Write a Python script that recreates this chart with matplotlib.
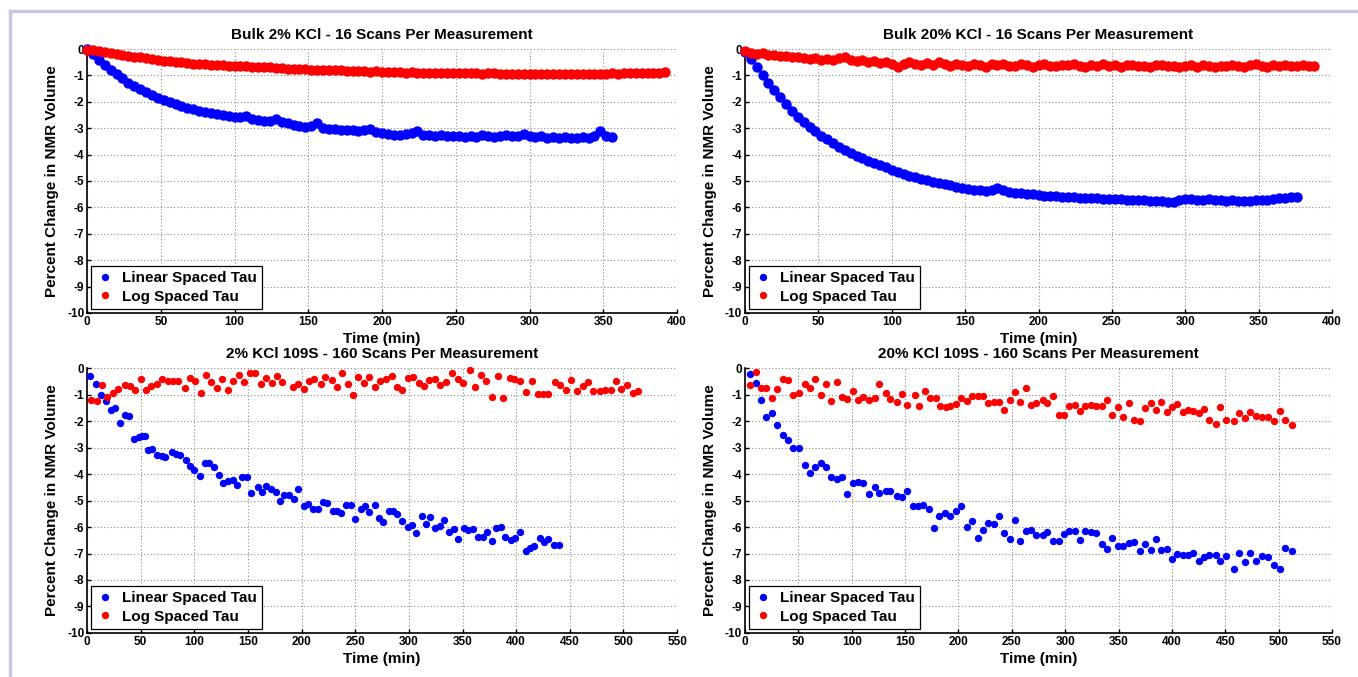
import numpy as np
import matplotlib.pyplot as plt
from matplotlib.lines import Line2D

plt.rcParams['font.family'] = ['Liberation Sans', 'DejaVu Sans']
plt.rcParams['font.weight'] = 'bold'
plt.rcParams['axes.unicode_minus'] = False

# bulk runs: one value every STEP minutes
STEP = 4

bulk2_linear = [
    0.00, -0.18, -0.40, -0.60, -0.78, -0.93, -1.10, -1.27, -1.40, -1.52,
    -1.63, -1.74, -1.84, -1.93, -2.01, -2.08, -2.15, -2.22, -2.28, -2.33,
    -2.37, -2.43, -2.47, -2.51, -2.55, -2.58, -2.56, -2.52, -2.66, -2.70,
    -2.71, -2.73, -2.66, -2.76, -2.80, -2.88, -2.93, -2.95, -2.90, -2.82,
    -2.98, -3.03, -3.02, -3.06, -3.08, -3.07, -3.10, -3.06, -3.02, -3.15,
    -3.18, -3.22, -3.24, -3.25, -3.22, -3.20, -3.10, -3.24, -3.27, -3.30,
    -3.26, -3.30, -3.31, -3.28, -3.33, -3.30, -3.32, -3.27, -3.30, -3.33,
    -3.29, -3.26, -3.31, -3.28, -3.22, -3.30, -3.35, -3.31, -3.36, -3.33,
    -3.38, -3.32, -3.36, -3.39, -3.34, -3.37, -3.30, -3.10, -3.28, -3.32]
bulk2_log = [
    -0.02, -0.05, -0.09, -0.12, -0.15, -0.20, -0.23, -0.26, -0.30, -0.32,
    -0.35, -0.39, -0.41, -0.44, -0.47, -0.48, -0.51, -0.52, -0.55, -0.56,
    -0.58, -0.59, -0.61, -0.61, -0.63, -0.63, -0.66, -0.66, -0.68, -0.68,
    -0.70, -0.70, -0.72, -0.72, -0.74, -0.74, -0.76, -0.76, -0.78, -0.78,
    -0.79, -0.79, -0.81, -0.81, -0.83, -0.82, -0.84, -0.84, -0.86, -0.85,
    -0.87, -0.86, -0.88, -0.87, -0.89, -0.88, -0.89, -0.90, -0.89, -0.89,
    -0.91, -0.90, -0.90, -0.91, -0.91, -0.92, -0.91, -0.93, -0.92, -0.92,
    -0.94, -0.93, -0.93, -0.94, -0.94, -0.95, -0.94, -0.96, -0.95, -0.95,
    -0.96, -0.95, -0.94, -0.95, -0.94, -0.94, -0.93, -0.94, -0.93, -0.92,
    -0.93, -0.92, -0.91, -0.92, -0.90, -0.91, -0.89, -0.89, -0.88]
bulk20_linear = [
    -0.12, -0.38, -0.68, -0.98, -1.28, -1.55, -1.82, -2.10, -2.34, -2.56,
    -2.76, -2.94, -3.12, -3.28, -3.42, -3.56, -3.70, -3.84, -3.95, -4.04,
    -4.14, -4.24, -4.32, -4.40, -4.48, -4.57, -4.66, -4.74, -4.80, -4.86,
    -4.92, -4.98, -5.02, -5.07, -5.10, -5.17, -5.23, -5.28, -5.31, -5.34,
    -5.36, -5.37, -5.34, -5.28, -5.35, -5.42, -5.44, -5.46, -5.48, -5.51,
    -5.54, -5.56, -5.57, -5.58, -5.59, -5.60, -5.62, -5.63, -5.64, -5.65,
    -5.66, -5.67, -5.68, -5.69, -5.70, -5.71, -5.72, -5.72, -5.73, -5.74,
    -5.75, -5.77, -5.80, -5.78, -5.72, -5.68, -5.70, -5.71, -5.72, -5.70,
    -5.73, -5.72, -5.74, -5.73, -5.75, -5.74, -5.76, -5.72, -5.73, -5.71,
    -5.68, -5.66, -5.64, -5.61, -5.60]
bulk20_log = [
    -0.08, -0.14, -0.18, -0.16, -0.24, -0.22, -0.28, -0.25, -0.31, -0.29,
    -0.34, -0.38, -0.33, -0.40, -0.36, -0.42, -0.34, -0.32, -0.40, -0.46,
    -0.42, -0.50, -0.47, -0.53, -0.49, -0.58, -0.70, -0.55, -0.50, -0.56,
    -0.60, -0.54, -0.62, -0.51, -0.58, -0.63, -0.55, -0.60, -0.64, -0.57,
    -0.61, -0.67, -0.58, -0.62, -0.56, -0.63, -0.66, -0.58, -0.61, -0.68,
    -0.60, -0.57, -0.63, -0.66, -0.59, -0.62, -0.56, -0.64, -0.68, -0.60,
    -0.63, -0.58, -0.65, -0.61, -0.67, -0.62, -0.59, -0.66, -0.63, -0.70,
    -0.62, -0.60, -0.66, -0.63, -0.68, -0.64, -0.61, -0.67, -0.62, -0.65,
    -0.69, -0.63, -0.66, -0.61, -0.64, -0.68, -0.62, -0.58, -0.64, -0.70,
    -0.62, -0.65, -0.60, -0.63, -0.66, -0.62, -0.65, -0.64]

# 109S runs, 160 scans per measurement
s2_linear_t = [
    3, 8, 13, 18, 22, 26, 31, 35, 39, 44, 48, 51, 54, 57, 61, 65, 70, 73, 79, 83,
    87, 92, 96, 100, 105, 110, 114, 118, 123, 127, 131, 136, 140, 144, 149, 153,
    159, 163, 167, 171, 176, 180, 184, 188, 193, 197, 202, 206, 211, 215, 220,
    224, 229, 233, 237, 241, 246, 250, 255, 259, 263, 268, 272, 276, 281, 285,
    289, 294, 299, 303, 307, 312, 316, 320, 324, 329, 333, 337, 342, 346, 351,
    355, 360, 364, 369, 373, 377, 381, 386, 390, 395, 399, 404, 409, 413, 417,
    422, 426, 430, 435, 440]
s2_linear = [
    -0.29, -0.60, -1.00, -1.23, -1.57, -1.50, -2.07, -1.76, -1.82, -2.68, -2.60,
    -2.58, -2.58, -3.08, -3.06, -3.27, -3.33, -3.36, -3.18, -3.25, -3.27, -3.46,
    -3.71, -3.86, -4.09, -3.58, -3.58, -3.75, -4.03, -4.34, -4.28, -4.21, -4.43,
    -4.13, -4.13, -4.72, -4.50, -4.69, -4.44, -4.57, -4.69, -5.00, -4.78, -4.78,
    -4.94, -4.57, -5.22, -5.12, -5.32, -5.32, -5.07, -5.09, -5.38, -5.38, -5.47,
    -5.16, -5.18, -5.70, -5.32, -5.22, -5.45, -5.18, -5.66, -5.82, -5.41, -5.38,
    -5.50, -5.79, -6.01, -5.91, -6.23, -5.60, -5.89, -5.64, -6.04, -5.95, -5.72,
    -6.20, -6.08, -6.44, -6.04, -6.10, -6.06, -6.38, -6.38, -6.20, -6.54, -6.04,
    -6.01, -6.38, -6.48, -6.42, -6.17, -6.89, -6.79, -6.73, -6.40, -6.57, -6.44,
    -6.67, -6.67]
s2_log_t = [
    4, 9, 14, 19, 24, 29, 35, 40, 45, 50, 55, 60, 65, 70, 75, 80, 85, 91, 96,
    101, 106, 111, 116, 121, 126, 131, 136, 142, 146, 152, 157, 162, 167, 172,
    177, 182, 192, 197, 202, 207, 212, 218, 222, 228, 233, 238, 243, 248, 253,
    258, 263, 268, 273, 279, 284, 289, 294, 299, 304, 309, 314, 319, 324, 329,
    335, 340, 346, 350, 357, 362, 367, 372, 377, 383, 388, 394, 398, 404, 409,
    415, 420, 425, 430, 436, 441, 446, 451, 457, 462, 467, 472, 478, 483, 488,
    493, 498, 503, 509, 514]
s2_log = [
    -1.19, -1.23, -0.63, -1.09, -0.94, -0.78, -0.63, -0.67, -0.84, -0.40, -0.84,
    -0.69, -0.60, -0.42, -0.50, -0.50, -0.50, -0.75, -0.38, -0.50, -0.94, -0.25,
    -0.54, -0.75, -0.42, -0.84, -0.50, -0.25, -0.53, -0.19, -0.19, -0.60, -0.38,
    -0.57, -0.29, -0.54, -0.72, -0.60, -0.79, -0.50, -0.40, -0.60, -0.35, -0.47,
    -0.72, -0.19, -0.60, -1.00, -0.35, -0.57, -0.35, -0.72, -0.50, -0.42, -0.29,
    -0.72, -0.84, -0.38, -0.35, -0.57, -0.67, -0.47, -0.40, -0.63, -0.54, -0.19,
    -0.42, -0.57, -0.09, -0.72, -0.25, -0.50, -1.09, -0.31, -1.13, -0.38, -0.42,
    -0.50, -0.91, -0.50, -0.97, -0.97, -0.97, -0.54, -0.63, -0.84, -0.44, -0.88,
    -0.69, -0.54, -0.86, -0.86, -0.82, -0.82, -0.50, -0.78, -0.63, -0.94, -0.86]
s20_linear_t = [
    5, 10, 15, 20, 25, 30, 36, 40, 45, 51, 56, 61, 66, 71, 76, 81, 86, 91, 96,
    101, 106, 111, 116, 122, 126, 132, 136, 142, 147, 152, 157, 162, 167, 172,
    177, 182, 187, 192, 198, 202, 208, 213, 218, 223, 228, 233, 238, 243, 248,
    253, 258, 263, 268, 273, 279, 283, 289, 294, 299, 304, 309, 314, 319, 324,
    329, 334, 339, 344, 349, 354, 360, 364, 370, 375, 380, 385, 390, 395, 400,
    405, 410, 415, 420, 425, 430, 435, 441, 445, 451, 458, 463, 468, 473, 479,
    484, 490, 496, 501, 506, 512]
s20_linear = [
    -0.23, -0.58, -1.21, -1.84, -1.71, -2.14, -2.52, -2.72, -3.02, -3.02, -3.65,
    -3.96, -3.75, -3.60, -3.72, -4.10, -4.19, -4.10, -4.75, -4.33, -4.29, -4.35,
    -4.75, -4.50, -4.73, -4.63, -4.63, -4.82, -4.88, -4.65, -5.19, -5.19, -5.16,
    -5.32, -6.04, -5.60, -5.48, -5.57, -5.41, -5.19, -6.01, -5.76, -6.43, -6.10,
    -5.86, -5.89, -5.57, -6.23, -6.45, -5.74, -6.52, -6.14, -6.11, -6.30, -6.30,
    -6.20, -6.52, -6.52, -6.26, -6.14, -6.14, -6.48, -6.14, -6.20, -6.24, -6.64,
    -6.83, -6.42, -6.70, -6.70, -6.60, -6.58, -6.92, -6.64, -6.87, -6.45, -6.87,
    -6.83, -7.21, -7.02, -7.04, -7.04, -6.99, -7.27, -7.12, -7.04, -7.04, -7.27,
    -7.08, -7.58, -6.99, -7.33, -6.99, -7.27, -7.08, -7.14, -7.42, -7.58, -6.79,
    -6.92]
s20_log_t = [
    5, 10, 15, 20, 25, 30, 36, 40, 45, 51, 56, 61, 66, 71, 76, 81, 86, 91, 96,
    101, 106, 111, 116, 122, 126, 132, 136, 142, 147, 152, 159, 163, 169, 173,
    179, 183, 188, 192, 198, 202, 208, 213, 218, 223, 228, 233, 238, 243, 248,
    253, 258, 263, 268, 273, 279, 283, 289, 294, 299, 304, 309, 314, 319, 324,
    329, 334, 339, 344, 349, 354, 360, 364, 370, 375, 380, 385, 390, 395, 400,
    405, 410, 415, 420, 425, 430, 435, 441, 445, 451, 458, 463, 468, 473, 479,
    484, 490, 496, 501, 506, 512]
s20_log = [
    -0.63, -0.16, -0.77, -0.77, -1.14, -0.79, -0.42, -0.45, -1.02, -0.96, -0.60,
    -0.77, -0.42, -1.01, -0.60, -1.23, -0.54, -1.08, -1.17, -0.88, -1.21, -1.11,
    -1.21, -1.14, -0.60, -0.96, -1.17, -1.27, -0.98, -1.40, -1.01, -1.45, -0.86,
    -1.14, -1.14, -1.45, -1.48, -1.45, -1.36, -1.14, -1.23, -1.07, -1.07, -1.07,
    -1.33, -1.30, -1.30, -1.58, -1.21, -0.89, -1.27, -0.77, -1.38, -1.33, -1.21,
    -1.33, -1.04, -1.76, -1.76, -1.45, -1.40, -1.64, -1.45, -1.38, -1.42, -1.42,
    -1.20, -1.76, -1.46, -1.84, -1.33, -1.96, -1.99, -1.52, -1.33, -1.58, -1.27,
    -1.65, -1.48, -1.36, -1.65, -1.58, -1.64, -1.71, -1.55, -1.95, -2.11, -1.48,
    -1.95, -1.99, -1.70, -1.90, -1.65, -1.82, -1.86, -1.84, -1.99, -1.61, -1.95,
    -2.14]

titles = ['Bulk 2% KCl - 16 Scans Per Measurement',
          'Bulk 20% KCl - 16 Scans Per Measurement',
          '2% KCl 109S - 160 Scans Per Measurement',
          '20% KCl 109S - 160 Scans Per Measurement']
series_names = ['Linear Spaced Tau', 'Log Spaced Tau']


def bulk_time(vals):
    return STEP * np.arange(len(vals))


panels = [
    (bulk_time(bulk2_linear), bulk2_linear, bulk_time(bulk2_log), bulk2_log, 400),
    (bulk_time(bulk20_linear), bulk20_linear, bulk_time(bulk20_log), bulk20_log, 400),
    (s2_linear_t, s2_linear, s2_log_t, s2_log, 550),
    (s20_linear_t, s20_linear, s20_log_t, s20_log, 550),
]

fig = plt.figure(figsize=(13.58, 6.77), dpi=100)
boxes = [[0.0641, 0.5377, 0.4345, 0.3899],
         [0.5486, 0.5377, 0.4323, 0.3899],
         [0.0641, 0.0650, 0.4345, 0.3914],
         [0.5486, 0.0650, 0.4323, 0.3914]]

for i, (box, (lt, lv, gt, gv, xmax)) in enumerate(zip(boxes, panels)):
    ax = fig.add_axes(box)
    ms = 7.5 if i < 2 else 5.3
    ax.plot(lt, lv, 'o', color='#0000ff', markersize=ms, markeredgewidth=0,
            label=series_names[0], clip_on=False, zorder=3)
    ax.plot(gt, gv, 'o', color='#ff0000', markersize=ms, markeredgewidth=0,
            label=series_names[1], clip_on=False, zorder=3)
    ax.set_xlim(0, xmax)
    ax.set_ylim(-10, 0)
    ax.set_xticks(np.arange(0, xmax + 1, 50))
    ax.set_yticks(np.arange(-10, 1, 1))
    ax.grid(True, color='0.55', linestyle=(0, (1, 2)), linewidth=0.8)
    ax.set_axisbelow(True)
    for side in ['top', 'right']:
        ax.spines[side].set_visible(False)
    for side in ['left', 'bottom']:
        ax.spines[side].set_linewidth(1.2)
    ax.tick_params(direction='in', length=3, width=1, labelsize=8.5, pad=2)
    ax.set_title(titles[i], fontsize=11, fontweight='bold', pad=7)
    ax.set_xlabel('Time (min)', fontsize=11, fontweight='bold', labelpad=3)
    ax.set_ylabel('Percent Change in NMR Volume', fontsize=11, fontweight='bold',
                  labelpad=6)
    leg = ax.legend(loc='lower left', fontsize=11, frameon=True, fancybox=False,
                    framealpha=1, edgecolor='black', borderaxespad=0.25,
                    handlelength=1.2, handletextpad=0.5, borderpad=0.35,
                    labelspacing=0.3, markerscale=5.3 / ms)
    leg.get_frame().set_linewidth(0.9)

# light frame round the picture
border = '#c8c8e6'
fig.add_artist(Line2D([9.5 / 1358, 9.5 / 1358], [0, 1 - 11 / 677],
                      color=border, linewidth=2.5, transform=fig.transFigure))
fig.add_artist(Line2D([9.5 / 1358, 1], [1 - 11 / 677, 1 - 11 / 677],
                      color=border, linewidth=2.5, transform=fig.transFigure))

fig.savefig('out.png', dpi=100, facecolor='white')
